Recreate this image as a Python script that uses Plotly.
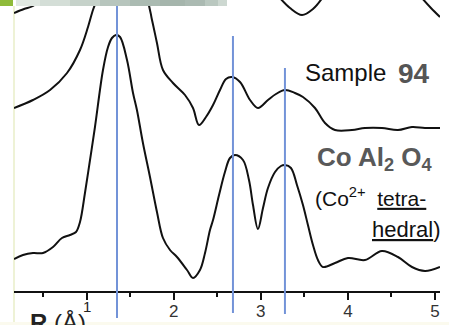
import plotly.graph_objects as go

# ---------------- data (R in Angstrom, intensity in arbitrary units) ----------------
sample94_R = [0.165, 0.383, 0.579, 0.774, 0.923, 1.015, 1.072, 1.118, 1.348, 1.693, 1.750, 1.807,
              1.876, 1.991, 2.129, 2.221, 2.290, 2.370, 2.451, 2.531, 2.600, 2.669, 2.761, 2.876,
              2.967, 3.082, 3.174, 3.277, 3.392, 3.484, 3.622, 3.737, 3.852, 4.047, 4.196, 4.391,
              4.575, 4.736, 4.885, 5.058]
sample94_I = [1.83, 1.91, 2.01, 2.18, 2.41, 2.64, 2.81, 2.91, 3.36, 2.91, 2.71, 2.48,
              2.21, 2.08, 1.96, 1.83, 1.66, 1.74, 1.86, 2.01, 2.12, 2.14, 2.09, 1.91,
              1.83, 1.91, 1.97, 2.01, 1.98, 1.94, 1.83, 1.68, 1.61, 1.61, 1.63, 1.63,
              1.61, 1.64, 1.63, 1.63]

coal2o4_R = [0.165, 0.268, 0.383, 0.498, 0.613, 0.716, 0.808, 0.877, 0.923, 0.980, 1.038, 1.095,
             1.187, 1.245, 1.290, 1.337, 1.383, 1.463, 1.532, 1.577, 1.646, 1.727, 1.807, 1.876,
             1.957, 2.037, 2.152, 2.221, 2.301, 2.359, 2.416, 2.451, 2.520, 2.588, 2.646, 2.703,
             2.795, 2.864, 2.910, 2.967, 3.025, 3.082, 3.163, 3.231, 3.277, 3.346, 3.415, 3.484,
             3.541, 3.599, 3.656, 3.714, 3.852, 4.001, 4.196, 4.391, 4.575, 4.736, 4.885, 5.058]
coal2o4_I = [0.32, 0.36, 0.38, 0.38, 0.44, 0.53, 0.56, 0.59, 0.69, 0.98, 1.31, 1.64,
             2.21, 2.44, 2.53, 2.56, 2.54, 2.31, 1.98, 1.81, 1.48, 1.14, 0.79, 0.53,
             0.41, 0.34, 0.21, 0.13, 0.21, 0.38, 0.61, 0.71, 0.96, 1.19, 1.33, 1.36,
             1.31, 1.11, 0.86, 0.62, 0.83, 1.03, 1.19, 1.25, 1.26, 1.23, 1.06, 0.86,
             0.66, 0.46, 0.31, 0.24, 0.28, 0.33, 0.31, 0.40, 0.34, 0.24, 0.20, 0.24]

# upper reference spectrum, mostly cropped off the top of the frame
upper_R = [0.165, 0.280, 0.383, 0.487, None, 3.209, 3.335, 3.473, 3.599, 3.714, None, 4.840, 4.954, 5.058]
upper_I = [2.78, 2.82, 2.85, 2.94, None, 2.94, 2.83, 2.76, 2.82, 2.94, None, 2.94, 2.83, 2.74]

peak_R = [1.348, 2.68, 3.277]
tick_vals = [1, 2, 3, 4, 5]
tick_text = [" ", "2", "3", "4", "5"]

# ---------------- figure ----------------
W, H = 449, 325
ML, MR, MT, MB = 14, 9, 0, 34
PW, PH = W - ML - MR, H - MT - MB


def px(x):
    return (x - ML) / PW


def py(y):
    return (H - MB - y) / PH


fig = go.Figure()
line_style = dict(color="#111111", width=2, shape="spline", smoothing=1.0)
for xs, ys in [(upper_R, upper_I), (sample94_R, sample94_I), (coal2o4_R, coal2o4_I)]:
    fig.add_trace(go.Scatter(x=xs, y=ys, mode="lines", line=line_style,
                             connectgaps=False, hoverinfo="skip", showlegend=False))

shapes = []
# vertical blue reference lines
blue_tops = [0, 36, 68]
blue_bottoms = [318, 313, 314]
for r, t, b in zip(peak_R, blue_tops, blue_bottoms):
    shapes.append(dict(type="line", xref="x", yref="paper", x0=r, x1=r, y0=py(b), y1=py(t),
                       line=dict(color="#7393d8", width=2), layer="above"))

# decorative frame bits from the slide
shapes.append(dict(type="line", xref="paper", yref="paper", x0=px(14), x1=px(14),
                   y0=py(325), y1=py(6), line=dict(color="#eef2d6", width=2), layer="below"))
shapes.append(dict(type="rect", xref="paper", yref="paper", x0=px(0), x1=px(449),
                   y0=py(325), y1=py(322), line=dict(width=0), fillcolor="#fbfaee", layer="below"))
shapes.append(dict(type="rect", xref="paper", yref="paper", x0=px(0), x1=px(13),
                   y0=py(6), y1=py(0), line=dict(width=0), fillcolor="#8fbb3a", layer="above"))
band = [(16, "#e0e8e2"), (40, "#d4ded7"), (70, "#c6d2ca"), (100, "#b7c5bd"), (130, "#abbbb2"),
        (160, "#a5b5ac"), (185, "#abbab2"), (205, "#bac8c0"), (218, "#cdd8d1"), (227, "#dde5e0")]
for i in range(len(band) - 1):
    shapes.append(dict(type="rect", xref="paper", yref="paper", x0=px(band[i][0]), x1=px(band[i + 1][0]),
                       y0=py(6), y1=py(0), line=dict(width=0), fillcolor=band[i][1], layer="above"))

ann = []
FA = "Liberation Sans, Arial"
ann.append(dict(text="Sample", x=px(303), y=py(72), xanchor="left", yanchor="middle",
                font=dict(family=FA, size=24, color="#111111")))
ann.append(dict(text="<b>94</b>", x=px(396), y=py(73), xanchor="left", yanchor="middle",
                font=dict(family=FA, size=28, color="#555555")))
ann.append(dict(text="<b>Co Al<sub>2</sub> O<sub>4</sub></b>", x=px(315), y=py(158), xanchor="left",
                yanchor="middle", font=dict(family=FA, size=26, color="#595959")))
ann.append(dict(text="(Co<sup>2+</sup>  <span style='text-decoration:underline'>tetra-</span>",
                x=px(313), y=py(197), xanchor="left", yanchor="middle",
                font=dict(family=FA, size=21, color="#111111")))
ann.append(dict(text="<span style='text-decoration:underline'>hedral</span>)",
                x=px(442), y=py(229), xanchor="right", yanchor="middle",
                font=dict(family=FA, size=22, color="#111111")))
ann.append(dict(text="<b>R</b> (Å)", x=px(28), y=py(322), xanchor="left", yanchor="middle",
                font=dict(family=FA, size=24, color="#222222")))
ann.append(dict(text="1", x=px(86.5), y=py(306), xanchor="center", yanchor="middle",
                font=dict(family=FA, size=15, color="#222222")))
for a in ann:
    a.update(xref="paper", yref="paper", showarrow=False)

fig.update_layout(
    width=W, height=H,
    margin=dict(l=ML, r=MR, t=MT, b=MB, pad=0),
    paper_bgcolor="white", plot_bgcolor="white",
    shapes=shapes, annotations=ann,
    xaxis=dict(range=[0.165, 5.058], showgrid=False, zeroline=False,
               showline=True, linecolor="#111111", linewidth=2,
               ticks="outside", ticklen=7, tickwidth=2, tickcolor="#111111",
               tickvals=tick_vals, ticktext=tick_text, ticklabelstandoff=-3,
               tickfont=dict(family=FA, size=17, color="#333333"),
               minor=dict(dtick=0.5, tick0=0, ticks="outside", ticklen=4, tickwidth=2,
                          tickcolor="#111111")),
    yaxis=dict(range=[0, 2.91], visible=False),
)

fig.write_html("out.html", config={"displayModeBar": False},
               post_script="document.body.style.margin='0';document.body.style.overflow='hidden';")
